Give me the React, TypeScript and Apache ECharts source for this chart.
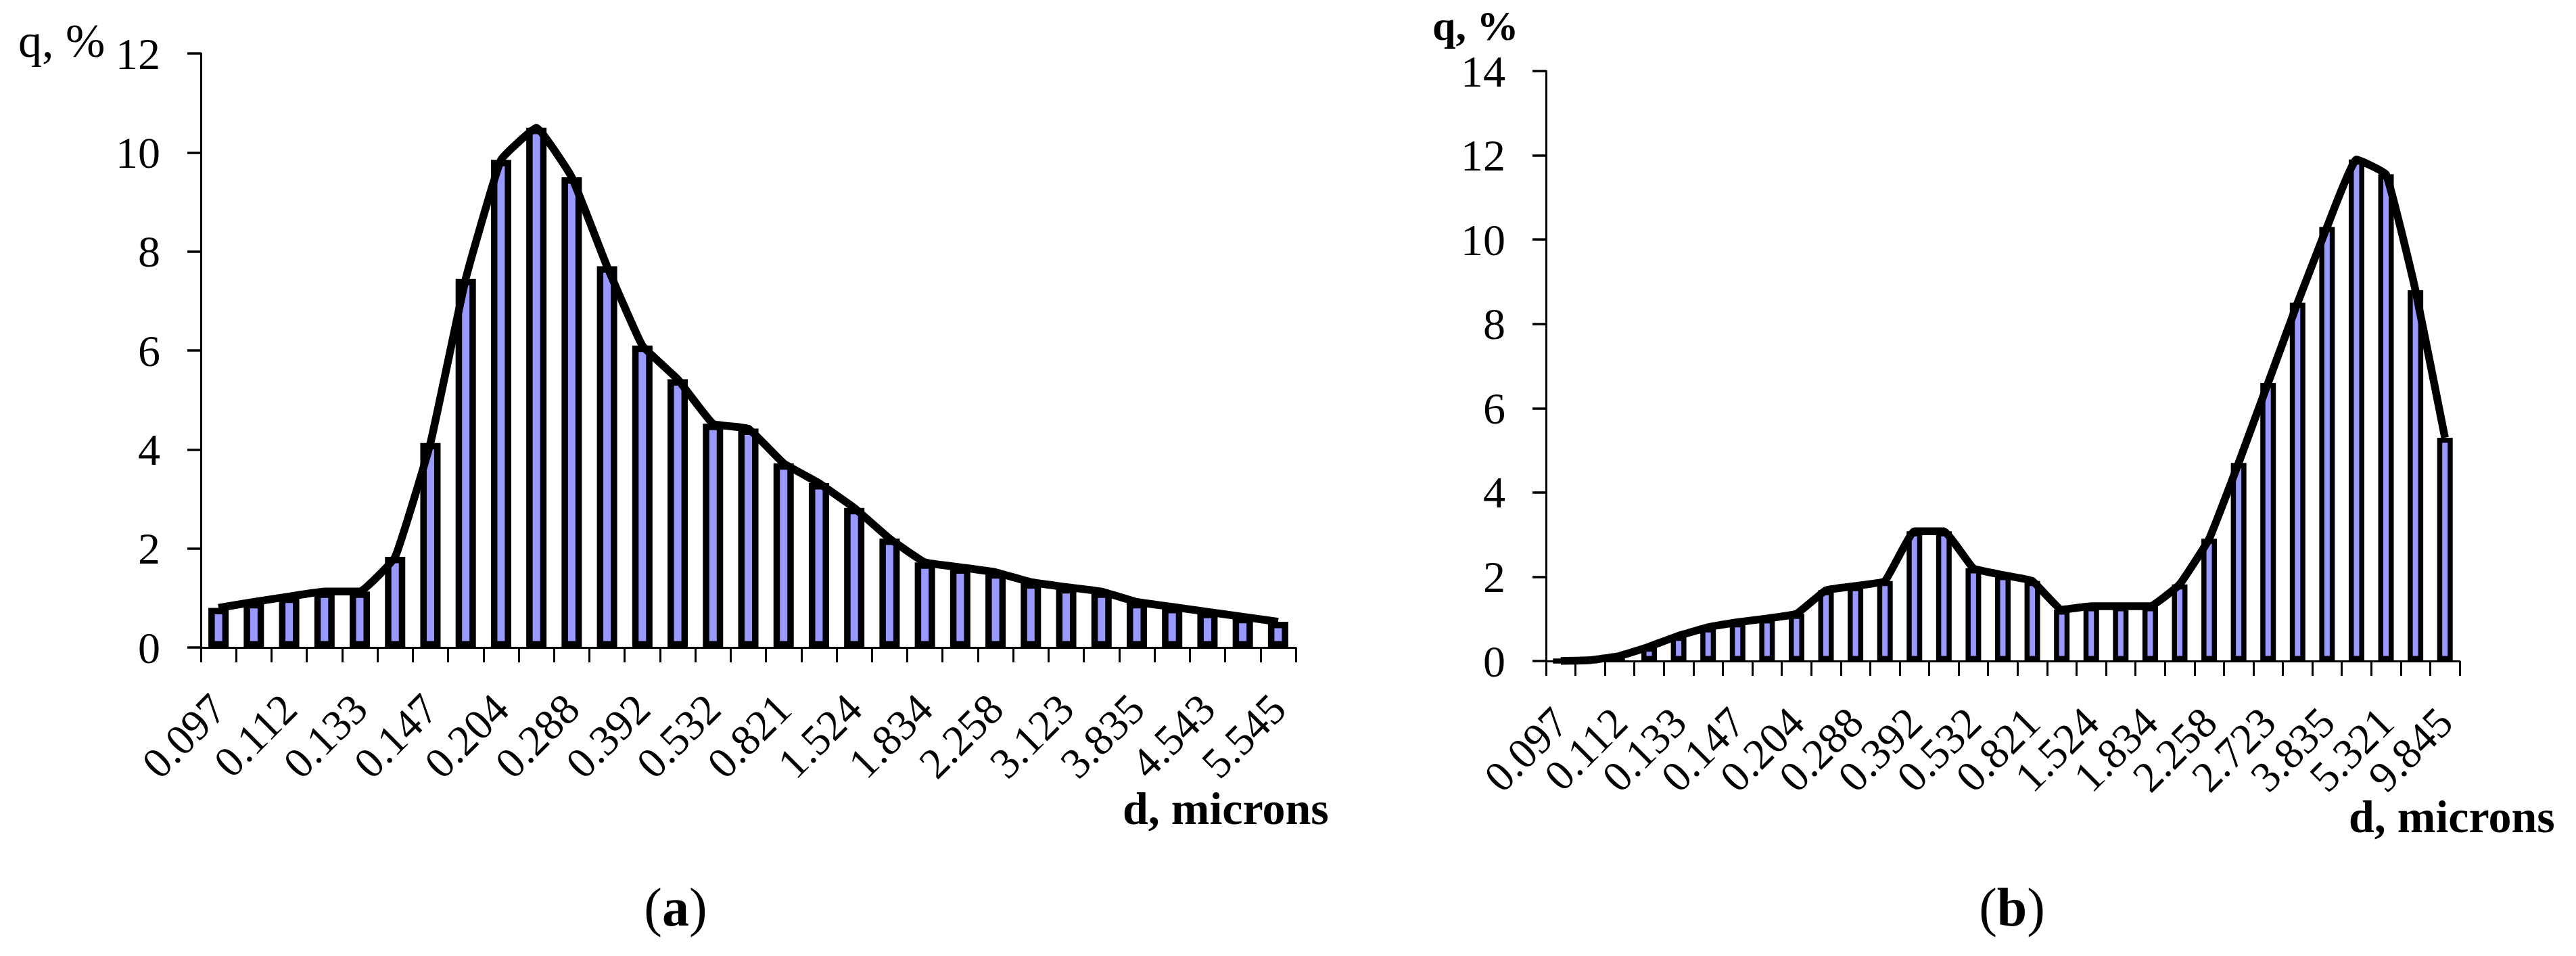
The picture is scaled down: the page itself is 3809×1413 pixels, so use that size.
import React, { useEffect, useRef } from "react";
import * as echarts from "echarts";

// Visible tick labels (every other category carries a label)
const labelsA = ["0.097", "0.112", "0.133", "0.147", "0.204", "0.288", "0.392", "0.532", "0.821", "1.524", "1.834", "2.258", "3.123", "3.835", "4.543", "5.545"];
const labelsB = ["0.097", "0.112", "0.133", "0.147", "0.204", "0.288", "0.392", "0.532", "0.821", "1.524", "1.834", "2.258", "2.723", "3.835", "5.321", "9.845"];

// q, % for each of the 31 size classes
const valuesA = [0.80, 0.92, 1.03, 1.13, 1.13, 1.83, 4.13, 7.45, 9.85, 10.5, 9.5, 7.7, 6.1, 5.42, 4.52, 4.42, 3.72, 3.32, 2.82, 2.2, 1.72, 1.62, 1.52, 1.32, 1.22, 1.13, 0.92, 0.82, 0.72, 0.62, 0.52];
const valuesB = [0.0, 0.02, 0.12, 0.34, 0.6, 0.8, 0.92, 1.01, 1.12, 1.68, 1.78, 1.9, 3.08, 3.08, 2.2, 2.04, 1.9, 1.22, 1.3, 1.3, 1.3, 1.82, 2.9, 4.7, 6.6, 8.5, 10.3, 11.9, 11.55, 8.8, 5.3];

const yTicksA = { min: 0, max: 12, interval: 2 };
const yTicksB = { min: 0, max: 14, interval: 2 };

const FONT = "Liberation Serif";
const BAR_COLOR = "#9999FF";

function buildCategories(labels: string[], count: number): string[] {
  const out: string[] = [];
  for (let i = 0; i < count; i++) out.push(i % 2 === 0 ? labels[i / 2] : "");
  return out;
}

export default function App() {
  const ref = useRef<HTMLDivElement>(null);

  useEffect(() => {
    if (!ref.current) return;
    const chart = echarts.init(ref.current, undefined, { renderer: "svg" });
    const catsA = buildCategories(labelsA, valuesA.length);
    const catsB = buildCategories(labelsB, valuesB.length);

    const xAxisCommon = (gridIndex: number, data: string[]) => ({
      type: "category",
      gridIndex,
      data,
      boundaryGap: true,
      axisLine: { show: true, lineStyle: { color: "#000", width: 3 } },
      axisTick: { show: true, interval: 0, length: 22, lineStyle: { color: "#000", width: 3 } },
      axisLabel: {
        interval: 0,
        rotate: 45,
        margin: 80,
        color: "#000",
        fontSize: 64,
        fontFamily: FONT,
      },
      splitLine: { show: false },
    });

    const yAxisCommon = (gridIndex: number, t: { min: number; max: number; interval: number }) => ({
      type: "value",
      gridIndex,
      min: t.min,
      max: t.max,
      interval: t.interval,
      axisLine: { show: true, lineStyle: { color: "#000", width: 3 } },
      axisTick: { show: true, length: 20, lineStyle: { color: "#000", width: 3.5 } },
      axisLabel: { margin: 60, color: "#000", fontSize: 66, fontFamily: FONT },
      splitLine: { show: false },
    });

    const option = {
      animation: false,
      backgroundColor: "#fff",
      textStyle: { fontFamily: FONT },
      grid: [
        { left: 297, top: 79, width: 1619, height: 878 },
        { left: 2286, top: 105, width: 1351, height: 872 },
      ],
      xAxis: [xAxisCommon(0, catsA), xAxisCommon(1, catsB)],
      yAxis: [yAxisCommon(0, yTicksA), yAxisCommon(1, yTicksB)],
      series: [
        {
          type: "bar",
          xAxisIndex: 0,
          yAxisIndex: 0,
          data: valuesA,
          barWidth: 30,
          itemStyle: { color: BAR_COLOR, borderColor: "#000", borderWidth: 9.5 },
        },
        {
          type: "line",
          xAxisIndex: 0,
          yAxisIndex: 0,
          data: valuesA,
          smooth: 0.1,
          symbol: "none",
          lineStyle: { color: "#000", width: 11.5 },
          z: 3,
        },
        {
          type: "bar",
          xAxisIndex: 1,
          yAxisIndex: 1,
          data: valuesB,
          barWidth: 23,
          itemStyle: { color: BAR_COLOR, borderColor: "#000", borderWidth: 7.5 },
        },
        {
          type: "line",
          xAxisIndex: 1,
          yAxisIndex: 1,
          data: valuesB,
          smooth: 0.1,
          symbol: "none",
          lineStyle: { color: "#000", width: 11.5 },
          z: 3,
        },
      ],
      graphic: [
        {
          type: "text",
          x: 27,
          y: 60,
          style: { text: "q, %", fontSize: 70, fontFamily: FONT, fill: "#000", textAlign: "left", textVerticalAlign: "middle" },
        },
        {
          type: "text",
          x: 2118,
          y: 38,
          style: { text: "q, %", fontSize: 62, fontWeight: "bold", fontFamily: FONT, fill: "#000", textAlign: "left", textVerticalAlign: "middle" },
        },
        {
          type: "text",
          x: 1660,
          y: 1195,
          style: { text: "d, microns", fontSize: 68, fontWeight: "bold", fontFamily: FONT, fill: "#000", textAlign: "left", textVerticalAlign: "middle" },
        },
        {
          type: "text",
          x: 3473,
          y: 1207,
          style: { text: "d, microns", fontSize: 68, fontWeight: "bold", fontFamily: FONT, fill: "#000", textAlign: "left", textVerticalAlign: "middle" },
        },
        {
          type: "text",
          x: 999,
          y: 1341,
          style: {
            text: "{n|(}{b|a}{n|)}",
            fontSize: 80,
            fontFamily: FONT,
            fill: "#000",
            textAlign: "center",
            textVerticalAlign: "middle",
            rich: {
              n: { fontSize: 80, fontFamily: FONT, fontWeight: "normal", fill: "#000" },
              b: { fontSize: 80, fontFamily: FONT, fontWeight: "bold", fill: "#000" },
            },
          },
        },
        {
          type: "text",
          x: 2975,
          y: 1341,
          style: {
            text: "{n|(}{b|b}{n|)}",
            fontSize: 80,
            fontFamily: FONT,
            fill: "#000",
            textAlign: "center",
            textVerticalAlign: "middle",
            rich: {
              n: { fontSize: 80, fontFamily: FONT, fontWeight: "normal", fill: "#000" },
              b: { fontSize: 80, fontFamily: FONT, fontWeight: "bold", fill: "#000" },
            },
          },
        },
      ],
    };

    chart.setOption(option as any);
    return () => chart.dispose();
  }, []);

  return (
    <div
      ref={ref}
      style={{ position: "absolute", left: 0, top: 0, width: 3809, height: 1413 }}
    />
  );
}
